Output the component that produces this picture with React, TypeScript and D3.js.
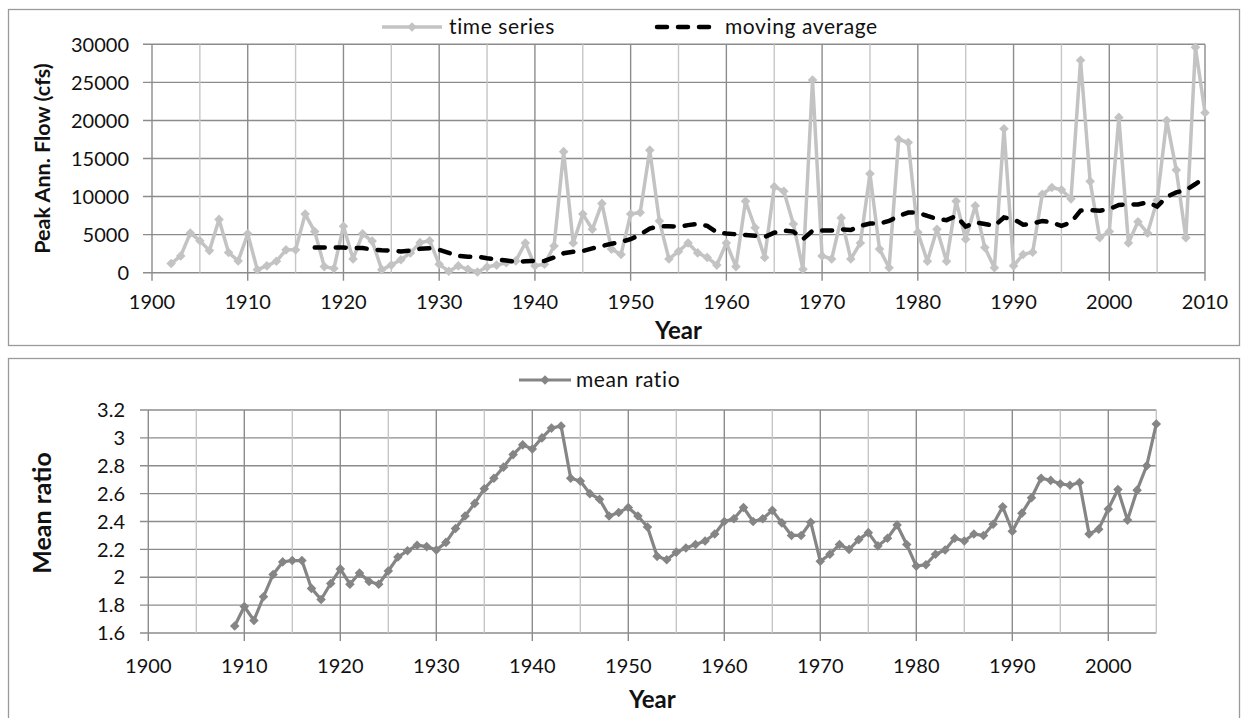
import React from "react";
import * as d3 from "d3";

// ---------- DATA ----------
const flowStartYear = 1902;
const peakFlow = [
  1200, 2200, 5200, 4200, 2900, 7000, 2650, 1550, 5100, 400, 900, 1500, 3000, 3000, 7700, 5400, 800, 550,
  6100, 1800, 5100, 4150, 400, 1000, 1700, 2600, 3950, 4200, 1100, 200, 900, 450, 100, 750, 1000, 1300,
  1550, 3900, 900, 1100, 3500, 15900, 3900, 7700, 5700, 9100, 3100, 2400, 7700, 7900, 16100, 6800, 1800,
  2800, 3900, 2600, 2000, 1000, 3900, 800, 9400, 5900, 2000, 11300, 10700, 6400, 450, 25300, 2200, 1800,
  7200, 1800, 3900, 13000, 3100, 650, 17500, 17100, 5300, 1500, 5700, 1500, 9400, 4400, 8800, 3300, 650,
  18900, 900, 2400, 2700, 10300, 11200, 10900, 9700, 27900, 12000, 4600, 5400, 20400, 3900, 6700, 5200,
  9500, 20000, 13500, 4600, 29600, 21000,
];

const maStartYear = 1917;
const movingAverage = [
  3300, 3300, 3300, 3300, 3250, 3250, 3050, 2950, 2900, 2800, 2900, 3150, 3200, 3000, 2600, 2200, 2100,
  2100, 1900, 1750, 1600, 1450, 1500, 1550, 1550, 2000, 2550, 2750, 2850, 3200, 3500, 3800, 4050, 4400,
  5000, 5800, 6100, 6100, 6050, 6250, 6400, 6150, 5300, 5150, 5050, 4950, 4850, 4700, 5250, 5550, 5400,
  4400, 5500, 5550, 5550, 5700, 5600, 6150, 6450, 6450, 6800, 7450, 7900, 7900, 7450, 7050, 6900, 7450,
  6050, 6600, 6400, 6150, 7250, 7050, 6300, 6450, 6800, 6600, 6150, 6600, 8150, 8200, 8150, 8350, 8900,
  9000, 8950, 9250, 8700, 9950, 10550, 10850, 11650, 12500,
];

const ratioStartYear = 1909;
const meanRatio = [
  1.65, 1.79, 1.69, 1.86, 2.02, 2.11, 2.12, 2.12, 1.92, 1.84, 1.955, 2.06, 1.95, 2.03, 1.97, 1.95, 2.045,
  2.145, 2.19, 2.23, 2.22, 2.195, 2.25, 2.35, 2.44, 2.53, 2.635, 2.71, 2.79, 2.88, 2.95, 2.92, 3.0, 3.07,
  3.085, 2.71, 2.69, 2.6, 2.56, 2.44, 2.465, 2.5, 2.44, 2.36, 2.15, 2.125, 2.18, 2.21, 2.235, 2.26, 2.31,
  2.4, 2.42, 2.5, 2.4, 2.42, 2.48, 2.39, 2.3, 2.3, 2.395, 2.115, 2.165, 2.235, 2.2, 2.27, 2.32, 2.225,
  2.28, 2.375, 2.235, 2.08, 2.09, 2.165, 2.195, 2.28, 2.26, 2.31, 2.3, 2.38, 2.505, 2.33, 2.46, 2.57,
  2.71, 2.695, 2.67, 2.66, 2.68, 2.31, 2.345, 2.49, 2.63, 2.41, 2.625, 2.8, 3.1,
];

const topXTicks = [1900, 1910, 1920, 1930, 1940, 1950, 1960, 1970, 1980, 1990, 2000, 2010];
const topYTicks = [0, 5000, 10000, 15000, 20000, 25000, 30000];
const botXTicks = [1900, 1910, 1920, 1930, 1940, 1950, 1960, 1970, 1980, 1990, 2000];
const botYTicks = [1.6, 1.8, 2, 2.2, 2.4, 2.6, 2.8, 3, 3.2];
const topGridYears = [1900, 1905, 1910, 1915, 1920, 1925, 1930, 1935, 1940, 1945, 1950, 1955, 1960, 1965, 1970, 1975, 1980, 1985, 1990, 1995, 2000, 2005, 2010];
const botGridYears = [1900, 1905, 1910, 1915, 1920, 1925, 1930, 1935, 1940, 1945, 1950, 1955, 1960, 1965, 1970, 1975, 1980, 1985, 1990, 1995, 2000, 2005];

// ---------- STYLE ----------
const FONT = "Lato, 'Open Sans', sans-serif";
const MAJOR = "#8c8c8c";
const MINOR = "#c6c6c6";
const TS_COLOR = "#c3c3c3";
const MR_COLOR = "#858585";

const diamond = d3.symbol(d3.symbolSquare, 46)();

export default function App() {
  const xT = d3.scaleLinear().domain([1900, 2010]).range([152, 1205]);
  const yT = d3.scaleLinear().domain([0, 30000]).range([272.7, 44.3]);
  const xB = d3.scaleLinear().domain([1900, 2005]).range([148.3, 1156.3]);
  const yB = d3.scaleLinear().domain([1.6, 3.2]).range([633, 410]);

  const flowPts = peakFlow.map((v, i) => [xT(flowStartYear + i), yT(v)] as [number, number]);
  const maPts = movingAverage.map((v, i) => [xT(maStartYear + i), yT(v)] as [number, number]);
  const mrPts = meanRatio.map((v, i) => [xB(ratioStartYear + i), yB(v)] as [number, number]);
  const line = d3.line();

  const tickFmt = (v: number) => String(v);

  return (
    <svg width={1243} height={718} style={{ position: "absolute", left: 0, top: 0, background: "#fff" }} fontFamily={FONT}>
      <rect x={0} y={0} width={1243} height={718} fill="#fff" />
      {/* chart frames */}
      <rect x={8.5} y={9.5} width={1231} height={336} fill="none" stroke="#9a9a9a" strokeWidth={1.3} />
      <rect x={8.5} y={358.5} width={1231} height={370} fill="none" stroke="#9a9a9a" strokeWidth={1.3} />

      {/* ---------- TOP CHART ---------- */}
      {topYTicks.map((t) => (
        <line key={"tyg" + t} x1={143} x2={xT(2010)} y1={yT(t)} y2={yT(t)} stroke={MAJOR} strokeWidth={1.4} />
      ))}
      {topGridYears.map((yr) => (
        <line key={"txg" + yr} x1={xT(yr)} x2={xT(yr)} y1={yT(30000)} y2={yr % 10 === 0 ? yT(0) + 8 : yT(0)}
          stroke={yr % 10 === 0 ? MAJOR : MINOR} strokeWidth={1.4} />
      ))}
      {topYTicks.map((t) => (
        <text key={"tyl" + t} x={129} y={yT(t)} dy="0.36em" textAnchor="end" fontSize={20} fill="#111">{tickFmt(t)}</text>
      ))}
      {topXTicks.map((t) => (
        <text key={"txl" + t} x={xT(t)} y={309} textAnchor="middle" fontSize={20} fill="#111">{t}</text>
      ))}
      <text x={(xT(1900) + xT(2010)) / 2} y={339} textAnchor="middle" fontSize={24} fontWeight="bold" fill="#111">Year</text>
      <text transform={`translate(50,${(yT(0) + yT(30000)) / 2}) rotate(-90)`} textAnchor="middle" fontSize={21.5} fontWeight="bold" fill="#111">Peak Ann. Flow (cfs)</text>

      <path d={line(flowPts) || ""} fill="none" stroke={TS_COLOR} strokeWidth={3.5} strokeLinejoin="round" />
      {flowPts.map((p, i) => (
        <path key={"fm" + i} d={diamond} transform={`translate(${p[0]},${p[1]}) rotate(45)`} fill={TS_COLOR} />
      ))}
      <path d={line(maPts) || ""} fill="none" stroke="#000" strokeWidth={4.5} strokeDasharray="10 11" strokeLinecap="round" />

      {/* top legend */}
      <line x1={382} x2={442} y1={27} y2={27} stroke={TS_COLOR} strokeWidth={3.5} />
      <path d={diamond} transform="translate(412,27) rotate(45)" fill={TS_COLOR} />
      <text x={449} y={27} dy="0.35em" fontSize={21} letterSpacing={0.6} fill="#111">time series</text>
      <line x1={657} x2={715} y1={27} y2={27} stroke="#000" strokeWidth={4.5} strokeDasharray="10 11" strokeLinecap="round" />
      <text x={725} y={27} dy="0.35em" fontSize={21} letterSpacing={0.6} fill="#111">moving average</text>

      {/* ---------- BOTTOM CHART ---------- */}
      {botYTicks.map((t) => (
        <line key={"byg" + t} x1={140} x2={xB(2005)} y1={yB(t)} y2={yB(t)} stroke={MAJOR} strokeWidth={1.4} />
      ))}
      {botGridYears.map((yr) => (
        <line key={"bxg" + yr} x1={xB(yr)} x2={xB(yr)} y1={yB(3.2)} y2={yr % 10 === 0 ? yB(1.6) + 8 : yB(1.6)}
          stroke={yr % 10 === 0 ? MAJOR : MINOR} strokeWidth={1.4} />
      ))}
      {botYTicks.map((t) => (
        <text key={"byl" + t} x={125} y={yB(t)} dy="0.36em" textAnchor="end" fontSize={20} fill="#111">{tickFmt(t)}</text>
      ))}
      {botXTicks.map((t) => (
        <text key={"bxl" + t} x={xB(t)} y={673} textAnchor="middle" fontSize={20} fill="#111">{t}</text>
      ))}
      <text x={(xB(1900) + xB(2005)) / 2} y={708} textAnchor="middle" fontSize={24} fontWeight="bold" fill="#111">Year</text>
      <text transform={`translate(51,513) rotate(-90)`} textAnchor="middle" fontSize={25} fontWeight="bold" fill="#111">Mean ratio</text>

      <path d={line(mrPts) || ""} fill="none" stroke={MR_COLOR} strokeWidth={3.2} strokeLinejoin="round" />
      {mrPts.map((p, i) => (
        <path key={"mm" + i} d={diamond} transform={`translate(${p[0]},${p[1]}) rotate(45)`} fill={MR_COLOR} />
      ))}

      {/* bottom legend */}
      <line x1={519} x2={571} y1={380} y2={380} stroke={MR_COLOR} strokeWidth={3.2} />
      <path d={diamond} transform="translate(545,380) rotate(45)" fill={MR_COLOR} />
      <text x={576} y={380} dy="0.35em" fontSize={21} letterSpacing={0.6} fill="#111">mean ratio</text>
    </svg>
  );
}
